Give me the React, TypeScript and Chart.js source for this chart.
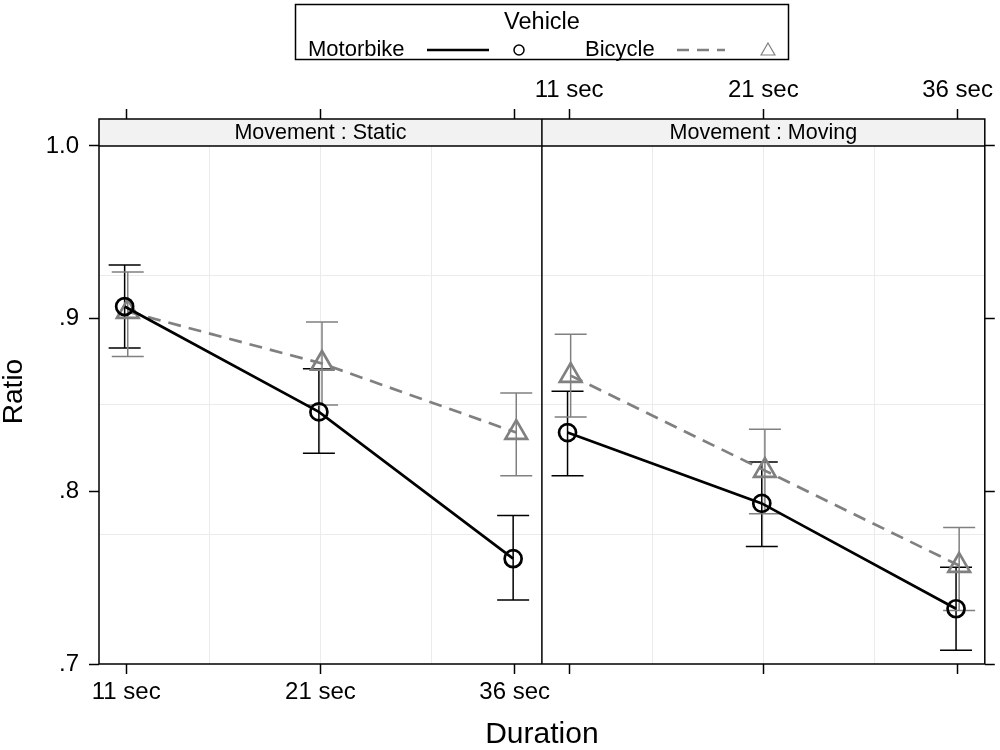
import { useEffect, useRef } from 'react'
import { Chart, registerables } from 'chart.js'

Chart.register(...registerables)

const durations = ['11 sec', '21 sec', '36 sec']
const panels = ['Movement : Static', 'Movement : Moving']
const vehicles = ['Motorbike', 'Bicycle']
const legendTitle = 'Vehicle'

// Movement : Static
const motoStatic = [0.907, 0.846, 0.761]
const motoStaticLo = [0.883, 0.822, 0.737]
const motoStaticHi = [0.931, 0.871, 0.786]
const bikeStatic = [0.904, 0.874, 0.834]
const bikeStaticLo = [0.878, 0.85, 0.809]
const bikeStaticHi = [0.927, 0.898, 0.857]

// Movement : Moving
const motoMoving = [0.834, 0.793, 0.732]
const motoMovingLo = [0.809, 0.768, 0.708]
const motoMovingHi = [0.858, 0.817, 0.756]
const bikeMoving = [0.867, 0.812, 0.757]
const bikeMovingLo = [0.843, 0.787, 0.731]
const bikeMovingHi = [0.891, 0.836, 0.779]

const yTicks = [0.7, 0.8, 0.9, 1.0]
const yGrid = [0.775, 0.85, 0.925]

// each panel covers categories 0..2 plus a margin on each side
const PAD = 0.14
const SPAN = 2 + 2 * PAD
const STRIP_TOP = 1.0156
const DODGE = 0.008

const FONT = '"Liberation Sans", Arial, Helvetica, sans-serif'
const GREY = '#808080'

const series = [
    { vehicle: 0, panel: 0, y: motoStatic, lo: motoStaticLo, hi: motoStaticHi },
    { vehicle: 1, panel: 0, y: bikeStatic, lo: bikeStaticLo, hi: bikeStaticHi },
    { vehicle: 0, panel: 1, y: motoMoving, lo: motoMovingLo, hi: motoMovingHi },
    { vehicle: 1, panel: 1, y: bikeMoving, lo: bikeMovingLo, hi: bikeMovingHi },
]

const posX = (panel: number, i: number) => panel * SPAN + i
const tickX = panels.flatMap((_, p) => durations.map((_, i) => posX(p, i)))
const gridX = panels.flatMap((_, p) => [1, 2, 3].map(k => p * SPAN - PAD + (SPAN * k) / 4))

const setTicks = (vals: number[]) => (axis: any) => {
    axis.ticks = vals.map(v => ({ value: v }))
}

const panelPlugin = {
    id: 'panels',
    beforeDatasetsDraw(chart: any) {
        const { ctx, chartArea: a, scales } = chart
        const x = scales.x
        const y = scales.y
        const y1 = y.getPixelForValue(1.0)
        ctx.save()
        panels.forEach((label, p) => {
            const xl = x.getPixelForValue(p * SPAN - PAD)
            const xr = x.getPixelForValue(p * SPAN - PAD + SPAN)
            ctx.fillStyle = '#f2f2f2'
            ctx.fillRect(xl, a.top, xr - xl, y1 - a.top)
            ctx.fillStyle = '#000'
            ctx.font = `21.5px ${FONT}`
            ctx.textAlign = 'center'
            ctx.textBaseline = 'middle'
            ctx.fillText(label, (xl + xr) / 2, (a.top + y1) / 2 + 1)
        })
        ctx.strokeStyle = '#000'
        ctx.lineWidth = 1.5
        ctx.beginPath()
        ctx.moveTo(a.left, y1)
        ctx.lineTo(a.right, y1)
        const xd = x.getPixelForValue(SPAN - PAD)
        ctx.moveTo(xd, a.top)
        ctx.lineTo(xd, a.bottom)
        ctx.rect(a.left, a.top, a.right - a.left, a.bottom - a.top)
        ctx.stroke()

        // error bars
        series.forEach(s => {
            const dx = s.vehicle === 0 ? -DODGE : DODGE
            ctx.strokeStyle = s.vehicle === 0 ? '#000' : GREY
            ctx.lineWidth = 1.5
            ctx.beginPath()
            s.y.forEach((_, i) => {
                const px = x.getPixelForValue(posX(s.panel, i) + dx)
                const lo = y.getPixelForValue(s.lo[i])
                const hi = y.getPixelForValue(s.hi[i])
                ctx.moveTo(px, lo)
                ctx.lineTo(px, hi)
                ctx.moveTo(px - 16, lo)
                ctx.lineTo(px + 16, lo)
                ctx.moveTo(px - 16, hi)
                ctx.lineTo(px + 16, hi)
            })
            ctx.stroke()
        })
        ctx.restore()
    },
}

const legendPlugin = {
    id: 'vehicleLegend',
    afterDraw(chart: any) {
        const { ctx } = chart
        ctx.save()
        ctx.strokeStyle = '#000'
        ctx.lineWidth = 1.5
        ctx.strokeRect(295.5, 4.5, 493, 55)
        ctx.fillStyle = '#000'
        ctx.textBaseline = 'middle'
        ctx.textAlign = 'center'
        ctx.font = `23.5px ${FONT}`
        ctx.fillText(legendTitle, 542, 23)
        ctx.textAlign = 'left'
        ctx.font = `22px ${FONT}`
        ctx.fillText(vehicles[0], 308, 50)
        ctx.fillText(vehicles[1], 585, 50)

        ctx.lineWidth = 2.5
        ctx.beginPath()
        ctx.moveTo(427, 50)
        ctx.lineTo(489, 50)
        ctx.stroke()
        ctx.lineWidth = 1.5
        ctx.beginPath()
        ctx.arc(519, 50, 5, 0, Math.PI * 2)
        ctx.stroke()

        ctx.strokeStyle = GREY
        ctx.lineWidth = 2.5
        ctx.setLineDash([12, 8])
        ctx.beginPath()
        ctx.moveTo(677, 50)
        ctx.lineTo(725, 50)
        ctx.stroke()
        ctx.setLineDash([])
        ctx.lineWidth = 1.2
        const r = 8
        ctx.beginPath()
        for (let k = 0; k < 3; k++) {
            const ang = (k * 2 * Math.PI) / 3
            const px = 768 + Math.sin(ang) * r
            const py = 51 - Math.cos(ang) * r
            if (k === 0) ctx.moveTo(px, py)
            else ctx.lineTo(px, py)
        }
        ctx.closePath()
        ctx.stroke()
        ctx.restore()
    },
}

export default function App() {
    const canvasRef = useRef<HTMLCanvasElement>(null)
    const chartRef = useRef<Chart | null>(null)

    useEffect(() => {
        if (!canvasRef.current) return
        if (chartRef.current) chartRef.current.destroy()

        Chart.defaults.font.family = FONT
        Chart.defaults.color = '#000'

        const tickGrid = {
            drawOnChartArea: false,
            drawTicks: true,
            tickLength: 10,
            tickColor: '#000',
            tickWidth: 1.5,
        }
        const lightGrid = {
            drawOnChartArea: true,
            drawTicks: false,
            color: '#ebebeb',
            lineWidth: 1,
        }

        chartRef.current = new Chart(canvasRef.current, {
            type: 'line',
            data: {
                datasets: series.map(s => {
                    const moto = s.vehicle === 0
                    const dx = moto ? -DODGE : DODGE
                    return {
                        label: `${vehicles[s.vehicle]} – ${panels[s.panel]}`,
                        data: s.y.map((v, i) => ({ x: posX(s.panel, i) + dx, y: v })),
                        borderColor: moto ? '#000' : GREY,
                        borderWidth: 2.7,
                        borderDash: moto ? [] : [13, 8],
                        pointStyle: moto ? 'circle' : 'triangle',
                        pointRadius: moto ? 8.5 : 12.5,
                        pointBorderWidth: 2.7,
                        pointBorderColor: moto ? '#000' : GREY,
                        pointBackgroundColor: 'rgba(0,0,0,0)',
                        tension: 0,
                        fill: false,
                    }
                }),
            },
            options: {
                animation: false,
                responsive: true,
                maintainAspectRatio: false,
                layout: { padding: 0 },
                plugins: { legend: { display: false }, tooltip: { enabled: false } },
                scales: {
                    x: {
                        type: 'linear',
                        position: 'bottom',
                        min: -PAD,
                        max: 2 * SPAN - PAD,
                        afterBuildTicks: setTicks(tickX),
                        afterFit: (s: any) => { s.height = 86 },
                        grid: tickGrid,
                        border: { display: false },
                        ticks: {
                            autoSkip: false,
                            maxRotation: 0,
                            padding: 4,
                            font: { size: 24 },
                            color: '#000',
                            callback: (_v: any, i: number) => (i < 3 ? durations[i] : ''),
                        },
                        title: {
                            display: true,
                            text: 'Duration',
                            font: { size: 30, lineHeight: 1 },
                            padding: 0,
                            color: '#000',
                        },
                    },
                    x2: {
                        type: 'linear',
                        position: 'top',
                        min: -PAD,
                        max: 2 * SPAN - PAD,
                        afterBuildTicks: setTicks(tickX),
                        afterFit: (s: any) => { s.height = 119 },
                        grid: tickGrid,
                        border: { display: false },
                        ticks: {
                            autoSkip: false,
                            maxRotation: 0,
                            padding: 4,
                            font: { size: 24 },
                            color: '#000',
                            callback: (_v: any, i: number) => (i >= 3 ? durations[i - 3] : ''),
                        },
                    },
                    xg: {
                        type: 'linear',
                        position: 'bottom',
                        min: -PAD,
                        max: 2 * SPAN - PAD,
                        afterBuildTicks: setTicks(gridX),
                        afterFit: (s: any) => { s.height = 0 },
                        grid: lightGrid,
                        border: { display: false },
                        ticks: { display: false },
                    },
                    y: {
                        type: 'linear',
                        position: 'left',
                        min: 0.7,
                        max: STRIP_TOP,
                        afterBuildTicks: setTicks(yTicks),
                        afterFit: (s: any) => { s.width = 99 },
                        grid: tickGrid,
                        border: { display: false },
                        ticks: {
                            padding: 10,
                            font: { size: 24 },
                            color: '#000',
                            callback: (v: any) => (v >= 1 ? '1.0' : Number(v).toFixed(1).replace(/^0/, '')),
                        },
                        title: {
                            display: true,
                            text: 'Ratio',
                            font: { size: 28, lineHeight: 1.05 },
                            padding: 0,
                            color: '#000',
                        },
                    },
                    yr: {
                        type: 'linear',
                        position: 'right',
                        min: 0.7,
                        max: STRIP_TOP,
                        afterBuildTicks: setTicks(yTicks),
                        afterFit: (s: any) => { s.width = 15 },
                        grid: tickGrid,
                        border: { display: false },
                        ticks: { callback: () => '' },
                    },
                    yg: {
                        type: 'linear',
                        position: 'left',
                        min: 0.7,
                        max: STRIP_TOP,
                        afterBuildTicks: setTicks(yGrid),
                        afterFit: (s: any) => { s.width = 0 },
                        grid: lightGrid,
                        border: { display: false },
                        ticks: { display: false },
                    },
                },
            } as any,
            plugins: [panelPlugin, legendPlugin],
        })

        return () => { chartRef.current?.destroy() }
    }, [])

    return (
        <div style={{ position: 'absolute', left: 0, top: 0, width: 1000, height: 750, background: '#fff' }}>
            <canvas ref={canvasRef} />
        </div>
    )
}
